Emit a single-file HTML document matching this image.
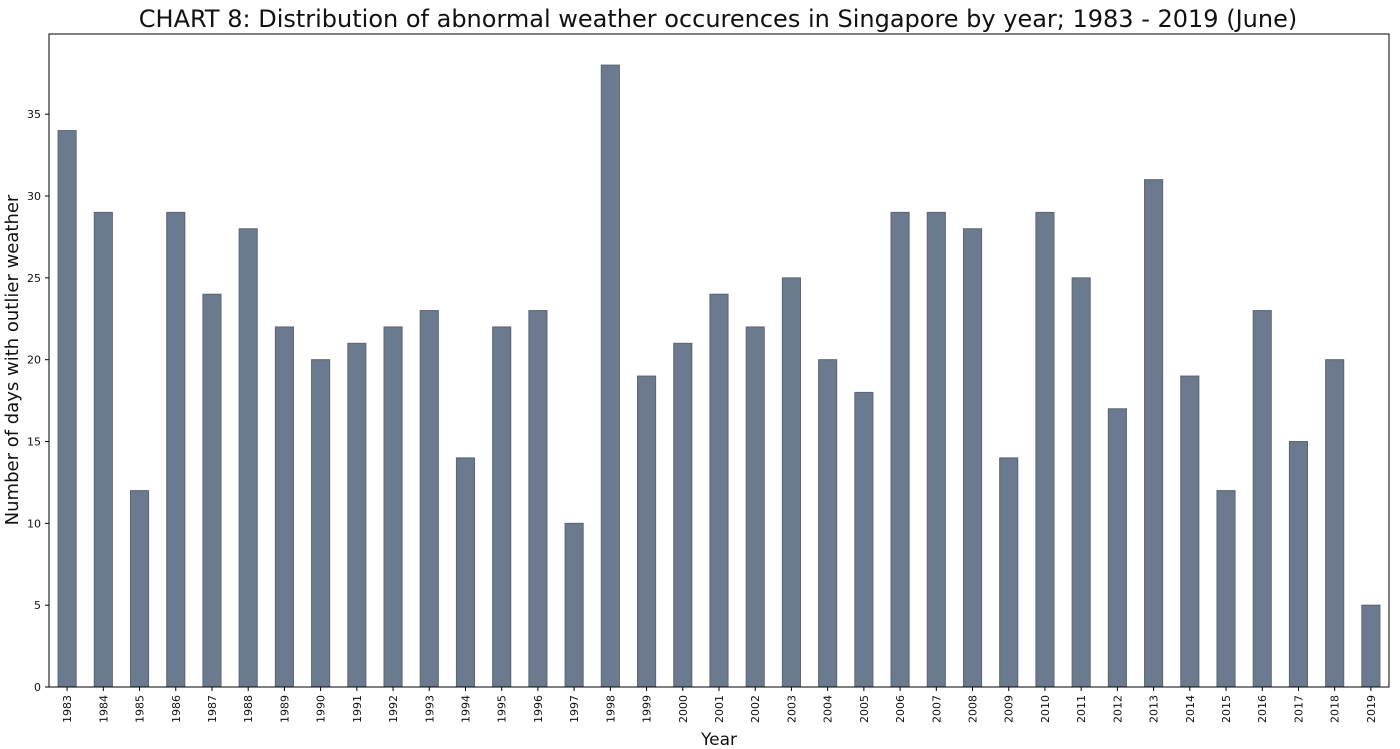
<!DOCTYPE html>
<html><head><meta charset="utf-8"><style>
body{margin:0;background:#fff;}
svg{display:block;font-family:"DejaVu Sans","Liberation Sans",sans-serif;}
</style></head><body>
<svg id="c" width="1400" height="749">
<text x="718" y="27" text-anchor="middle" font-size="24" fill="#111">CHART 8: Distribution of abnormal weather occurences in Singapore by year; 1983 - 2019 (June)</text>
<text transform="translate(18,360) rotate(-90)" text-anchor="middle" font-size="18" fill="#111">Number of days with outlier weather</text>
<text x="719" y="745" text-anchor="middle" font-size="17" fill="#111">Year</text>
<g id="bars"></g><g id="axes"></g>
</svg>
<script>
const years=[1983,1984,1985,1986,1987,1988,1989,1990,1991,1992,1993,1994,1995,1996,1997,1998,1999,2000,2001,2002,2003,2004,2005,2006,2007,2008,2009,2010,2011,2012,2013,2014,2015,2016,2017,2018,2019];
const counts=[34,29,12,29,24,28,22,20,21,22,23,14,22,23,10,38,19,21,24,22,25,20,18,29,29,28,14,29,25,17,31,19,12,23,15,20,5];
const yTicks=[0,5,10,15,20,25,30,35];
const L=49,R=1389,T=34,B=687,YMAX=39.9;
const NS='http://www.w3.org/2000/svg';
const band=(R-L)/years.length;
const x=i=>L+band*(i+0.5);
const y=v=>B-v/YMAX*(B-T);
const bars=document.getElementById('bars'),axes=document.getElementById('axes');
function mk(tag,attrs,parent){const e=document.createElementNS(NS,tag);for(const k in attrs)e.setAttribute(k,attrs[k]);parent.appendChild(e);return e;}
counts.forEach((v,i)=>{
  const r=mk('rect',{x:x(i)-band/4,y:y(v),width:band/2,height:B-y(v),fill:'#6b7a8f',stroke:'#5a6676','stroke-width':1},bars);
  
  
  mk('line',{x1:x(i),x2:x(i),y1:B,y2:B+4,stroke:'#000'},axes);
  const t=mk('text',{transform:`translate(${x(i)+4},${B+8}) rotate(-90)`,'text-anchor':'end','font-size':11,fill:'#111'},axes);
  t.textContent=years[i];
  
  
});
yTicks.forEach(v=>{
  mk('line',{x1:L-4,x2:L,y1:y(v),y2:y(v),stroke:'#000'},axes);
  const t=mk('text',{x:L-8,y:y(v)+4,'text-anchor':'end','font-size':11,fill:'#111'},axes);
  t.textContent=v;
  
  
});
const f=mk('rect',{x:L,y:T,width:R-L,height:B-T,fill:'none',stroke:'#000','stroke-width':1},axes);


</script>
</body></html>
